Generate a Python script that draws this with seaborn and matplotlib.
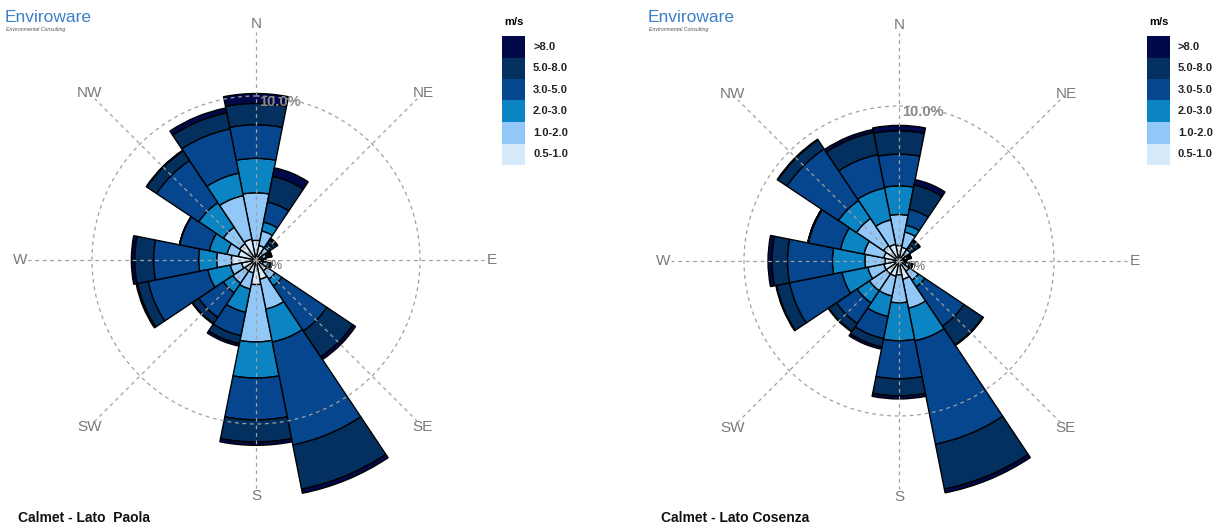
import matplotlib.pyplot as plt
import numpy as np
import pandas as pd
import seaborn as sns
from matplotlib.patches import Rectangle

# wind directions (16 sectors) and speed classes (m/s)
directions = ['N', 'NNE', 'NE', 'ENE', 'E', 'ESE', 'SE', 'SSE',
              'S', 'SSW', 'SW', 'WSW', 'W', 'WNW', 'NW', 'NNW']
speed_classes = ['0.5-1.0', '1.0-2.0', '2.0-3.0', '3.0-5.0', '5.0-8.0', '>8.0']

# frequencies (%) - Calmet, Lato Paola
paola_05_10 = [1.2, 0.9, 0.5, 0.4, 0.3, 0.45, 0.8, 1.2, 1.5, 0.8, 0.8, 0.9, 1.5, 1.1, 1.2, 1.3]
paola_10_20 = [2.9, 0.9, 0.4, 0.25, 0.15, 0.3, 0.6, 1.85, 3.5, 1.0, 0.9, 0.7, 0.9, 0.7, 1.2, 2.7]
paola_20_30 = [2.1, 0.55, 0.15, 0.1, 0.05, 0.15, 0.5, 2.05, 2.2, 1.45, 0.7, 1.4, 1.1, 1.1, 1.8, 1.4]
paola_30_50 = [2.05, 1.25, 0.2, 0.1, 0.05, 0.1, 3.3, 6.4, 2.55, 1.45, 1.8, 3.7, 2.75, 1.85, 3.1, 2.75]
paola_50_80 = [1.3, 1.6, 0.25, 0.1, 0.03, 0.0, 1.9, 2.75, 1.35, 0.5, 0.45, 0.65, 1.15, 0.0, 0.7, 1.0]
paola_gt80 = [0.6, 0.53, 0.1, 0.05, 0.02, 0.0, 0.2, 0.25, 0.2, 0.15, 0.05, 0.1, 0.2, 0.0, 0.05, 0.3]

# frequencies (%) - Calmet, Lato Cosenza
cosenza_05_10 = [1.0, 0.9, 0.5, 0.35, 0.3, 0.45, 0.8, 1.2, 0.9, 1.0, 1.0, 1.0, 0.9, 1.0, 1.2, 1.1]
cosenza_10_20 = [2.0, 1.0, 0.4, 0.2, 0.1, 0.25, 0.7, 1.9, 1.8, 1.3, 1.3, 1.05, 1.3, 1.3, 2.1, 1.6]
cosenza_20_30 = [1.85, 0.45, 0.15, 0.1, 0.05, 0.1, 0.5, 2.15, 2.45, 1.35, 0.95, 1.7, 2.1, 1.55, 1.4, 2.1]
cosenza_30_50 = [2.05, 1.05, 0.2, 0.1, 0.05, 0.1, 3.05, 6.8, 2.45, 1.45, 1.6, 3.45, 2.9, 2.1, 4.0, 2.2]
cosenza_50_80 = [1.5, 1.6, 0.3, 0.05, 0.0, 0.0, 1.45, 2.95, 1.1, 0.55, 0.6, 0.85, 1.0, 0.05, 0.7, 1.45]
cosenza_gt80 = [0.35, 0.35, 0.1, 0.0, 0.0, 0.0, 0.05, 0.25, 0.2, 0.15, 0.05, 0.05, 0.25, 0.0, 0.05, 0.2]

sns.set_theme(style='white')
plt.rcParams['font.family'] = ['Liberation Sans', 'DejaVu Sans']

colors = sns.color_palette(['#d6eafc', '#92c8f7', '#0a84c3', '#06468e', '#03305e', '#02094b'])

W, H = 1221, 529
fig = plt.figure(figsize=(W / 100, H / 100), dpi=100)
fig.patch.set_facecolor('white')


def fx(px):
    return px / W


def fy(py):
    return 1 - py / H


def rose(cx, cy, px_per_pct, series, title, logo_x, legend_x):
    rmax = 16.0
    rad = rmax * px_per_pct
    ax = fig.add_axes([fx(cx - rad), fy(cy + rad), 2 * rad / W, 2 * rad / H],
                      projection='polar')
    ax.set_theta_zero_location('N')
    ax.set_theta_direction(-1)
    ax.set_ylim(0, rmax)
    ax.axis('off')

    df = pd.DataFrame(dict(zip(speed_classes, series)), index=directions)
    theta = np.deg2rad(np.arange(len(directions)) * 360 / len(directions))
    width = 2 * np.pi / len(directions)
    bottom = np.zeros(len(directions))
    for k, cls in enumerate(speed_classes):
        ax.bar(theta, df[cls].values, width=width, bottom=bottom,
               color=colors[k], edgecolor='black', linewidth=1.0, zorder=2)
        bottom = bottom + df[cls].values

    # dashed grid: 8 spokes + 10% circle
    grid_len = 228 / px_per_pct
    lab_r = 236 / px_per_pct
    for i, lab in enumerate(['N', 'NE', 'E', 'SE', 'S', 'SW', 'W', 'NW']):
        th = np.deg2rad(i * 45)
        ax.plot([th, th], [0, grid_len], ls=(0, (3, 3)), color='#a0a0a0',
                lw=0.9, zorder=4)
        ax.text(th, lab_r, lab, ha='center', va='center', fontsize=11,
                color='#7a7a7a', clip_on=False)
    circ = np.linspace(0, 2 * np.pi, 400)
    ax.plot(circ, np.full_like(circ, 10.0), ls=(0, (3, 3)), color='#a0a0a0',
            lw=0.9, zorder=4)
    ax.annotate('10.0%', xy=(0, 10.0), xytext=(2, -4), textcoords='offset points',
                ha='left', va='center', fontsize=10.5, color='#8a8a8a',
                fontweight='bold', zorder=6)
    ax.annotate('0%', xy=(0, 0), xytext=(7, -4), textcoords='offset points',
                ha='left', va='center', fontsize=8.5, color='#666666', zorder=6)

    # legend
    fig.text(fx(legend_x + 12), fy(22), 'm/s', ha='center', va='center',
             fontsize=8, fontweight='bold', color='black')
    box_h = 21.5
    for k, cls in enumerate(reversed(speed_classes)):
        top = 36 + k * box_h
        fig.add_artist(Rectangle((fx(legend_x), fy(top + box_h)), 23 / W, box_h / H,
                                 transform=fig.transFigure,
                                 facecolor=colors[len(speed_classes) - 1 - k],
                                 edgecolor='none'))
        fig.text(fx(legend_x + 31), fy(top + box_h / 2), cls, ha='left',
                 va='center', fontsize=8, fontweight='bold', color='#222222')

    # logo and caption
    fig.text(fx(logo_x), fy(17), 'Enviroware', ha='left', va='center',
             fontsize=12.5, color='#3d7fc9')
    fig.text(fx(logo_x + 1), fy(30), 'Environmental Consulting', ha='left',
             va='center', fontsize=3.8, color='#555555', style='italic')
    fig.text(fx(logo_x + 13), fy(518), title, ha='left', va='center',
             fontsize=10, fontweight='bold', color='#111111')


rose(256, 260, 16.4,
     [paola_05_10, paola_10_20, paola_20_30, paola_30_50, paola_50_80, paola_gt80],
     'Calmet - Lato  Paola', 5, 502)
rose(899, 261, 15.5,
     [cosenza_05_10, cosenza_10_20, cosenza_20_30, cosenza_30_50, cosenza_50_80, cosenza_gt80],
     'Calmet - Lato Cosenza', 648, 1147)

fig.savefig('out.png', dpi=100, facecolor='white')
